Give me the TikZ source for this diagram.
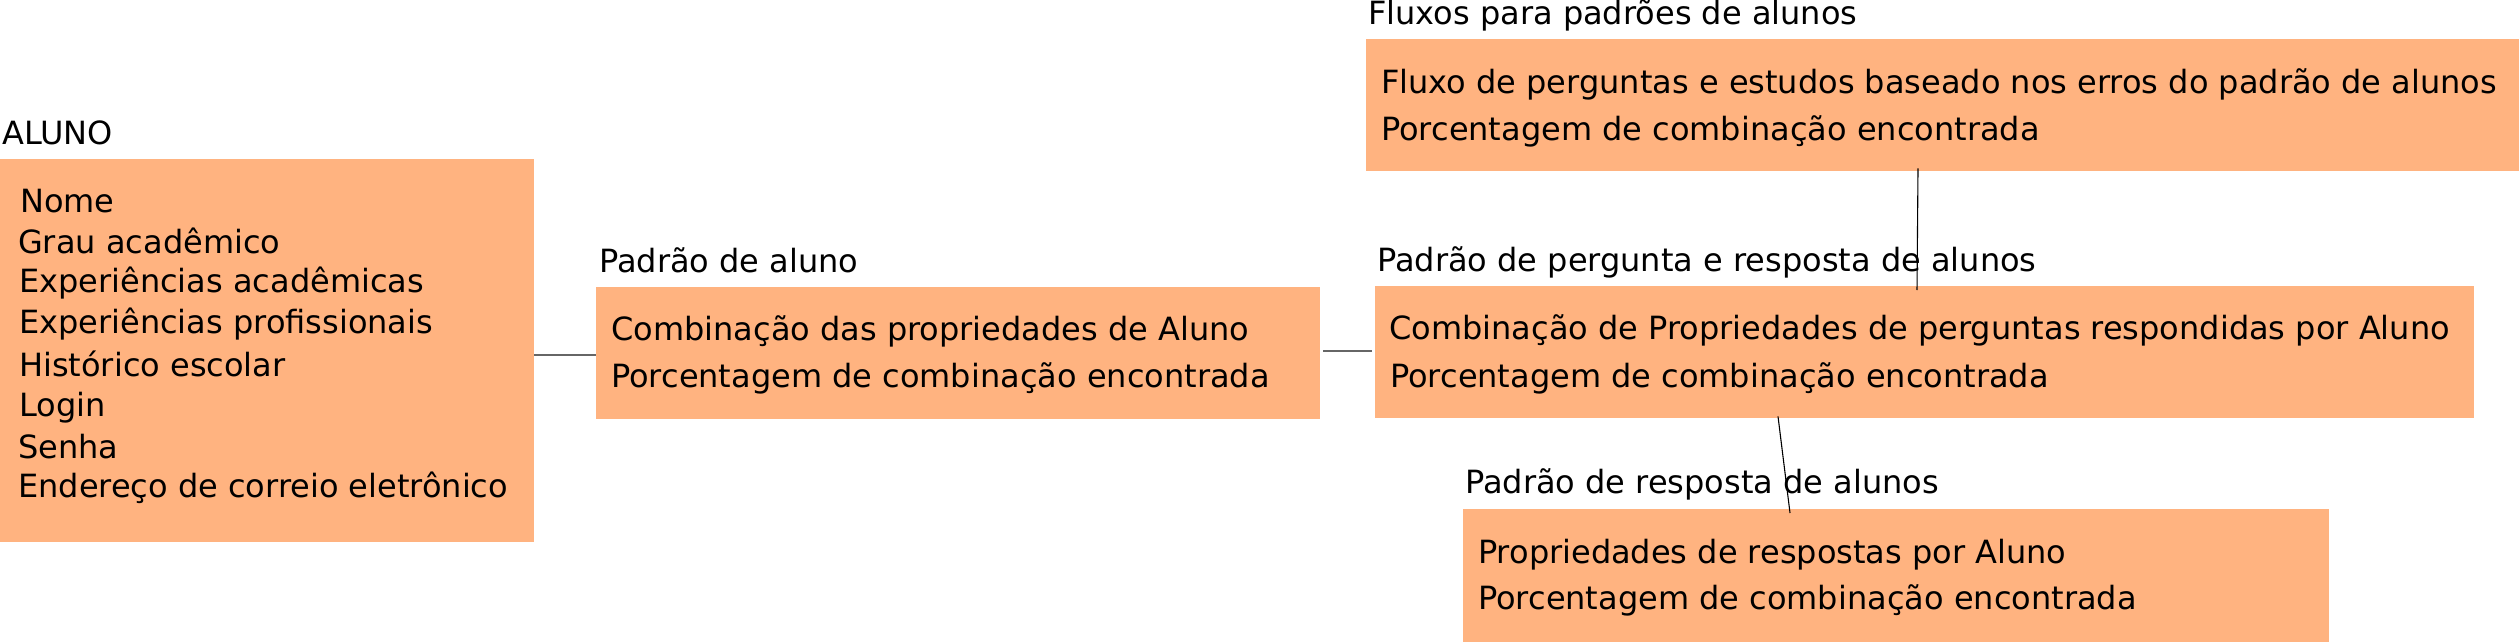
\documentclass[tikz,border=0pt]{standalone}
\usepackage{fontspec}
\setmainfont{DejaVu Sans}
\usetikzlibrary{calc}
\definecolor{boxfill}{HTML}{FFB380}
\definecolor{hgray}{HTML}{666666}
\tikzset{
  box/.style={rectangle, fill=boxfill, draw=none, inner sep=0pt, anchor=north west},
  txt/.style={inner sep=0pt, anchor=base west, font=\fontsize{32}{38}\selectfont, text=black},
  hline/.style={draw=hgray, line width=1.6pt},
  vline/.style={draw=black, line width=1.1pt}
}
\begin{document}
\begin{tikzpicture}[x=1pt,y=-1pt]
\useasboundingbox (0,0) rectangle (2519,642);
% boxes
\node[box, minimum width=534pt, minimum height=383pt] (aluno) at (0,159) {};
\node[box, minimum width=724pt, minimum height=132pt] (padrao) at (596,287) {};
\node[box, minimum width=1153pt, minimum height=132pt] (fluxos) at (1366,39) {};
\node[box, minimum width=1099pt, minimum height=132pt] (pergunta) at (1375,286) {};
\node[box, minimum width=866pt, minimum height=133pt] (resposta) at (1463,509) {};
% ALUNO
\node[txt] (lAluno) at (2,144) {ALUNO};
\node[txt] (a1) at (20,212) {Nome};
\node[txt] (a2) at (18,253) {Grau acadêmico};
\node[txt] (a3) at (19,292) {Experiências acadêmicas};
\node[txt] (a4) at (19,333) {Experiências profissionais};
\node[txt] (a5) at (19,376) {Histórico escolar};
\node[txt] (a6) at (19,416) {Login};
\node[txt] (a7) at (18,458) {Senha};
\node[txt] (a8) at (18,497) {Endereço de correio eletrônico};
% Padrao de aluno
\node[txt] (lPadrao) at (599,272) {Padrão de aluno};
\node[txt] (p1) at (611,340) {Combinação das propriedades de Aluno};
\node[txt] (p2) at (611,387) {Porcentagem de combinação encontrada};
% Fluxos
\node[txt] (lFluxos) at (1368,25) {Fluxos para padrões de alunos};
\node[txt] (f1) at (1381,93) {Fluxo de perguntas e estudos baseado nos erros do padrão de alunos};
\node[txt] (f2) at (1381,140) {Porcentagem de combinação encontrada};
% Pergunta
\node[txt] (lPergunta) at (1377,271) {Padrão de pergunta e resposta de alunos};
\node[txt] (q1) at (1389,339) {Combinação de Propriedades de perguntas respondidas por Aluno};
\node[txt] (q2) at (1390,387) {Porcentagem de combinação encontrada};
% Resposta
\node[txt] (lResposta) at (1465,493) {Padrão de resposta de alunos};
\node[txt] (r1) at (1478,563) {Propriedades de respostas por Aluno};
\node[txt] (r2) at (1478,609) {Porcentagem de combinação encontrada};
% connectors
\draw[hline] (aluno.east |- 0,355) -- (padrao.west |- 0,355);
\draw[hline] ($(padrao.east |- 0,351)+(3,0)$) -- ($(pergunta.west |- 0,351)+(-3,0)$);
\draw[vline] ($(fluxos.south west)+(552,-3)$) -- ($(pergunta.north west)+(542,4)$);
\draw[vline] ($(pergunta.south west)+(403,-2)$) -- ($(resposta.north west)+(327,4)$);
\end{tikzpicture}
\end{document}
